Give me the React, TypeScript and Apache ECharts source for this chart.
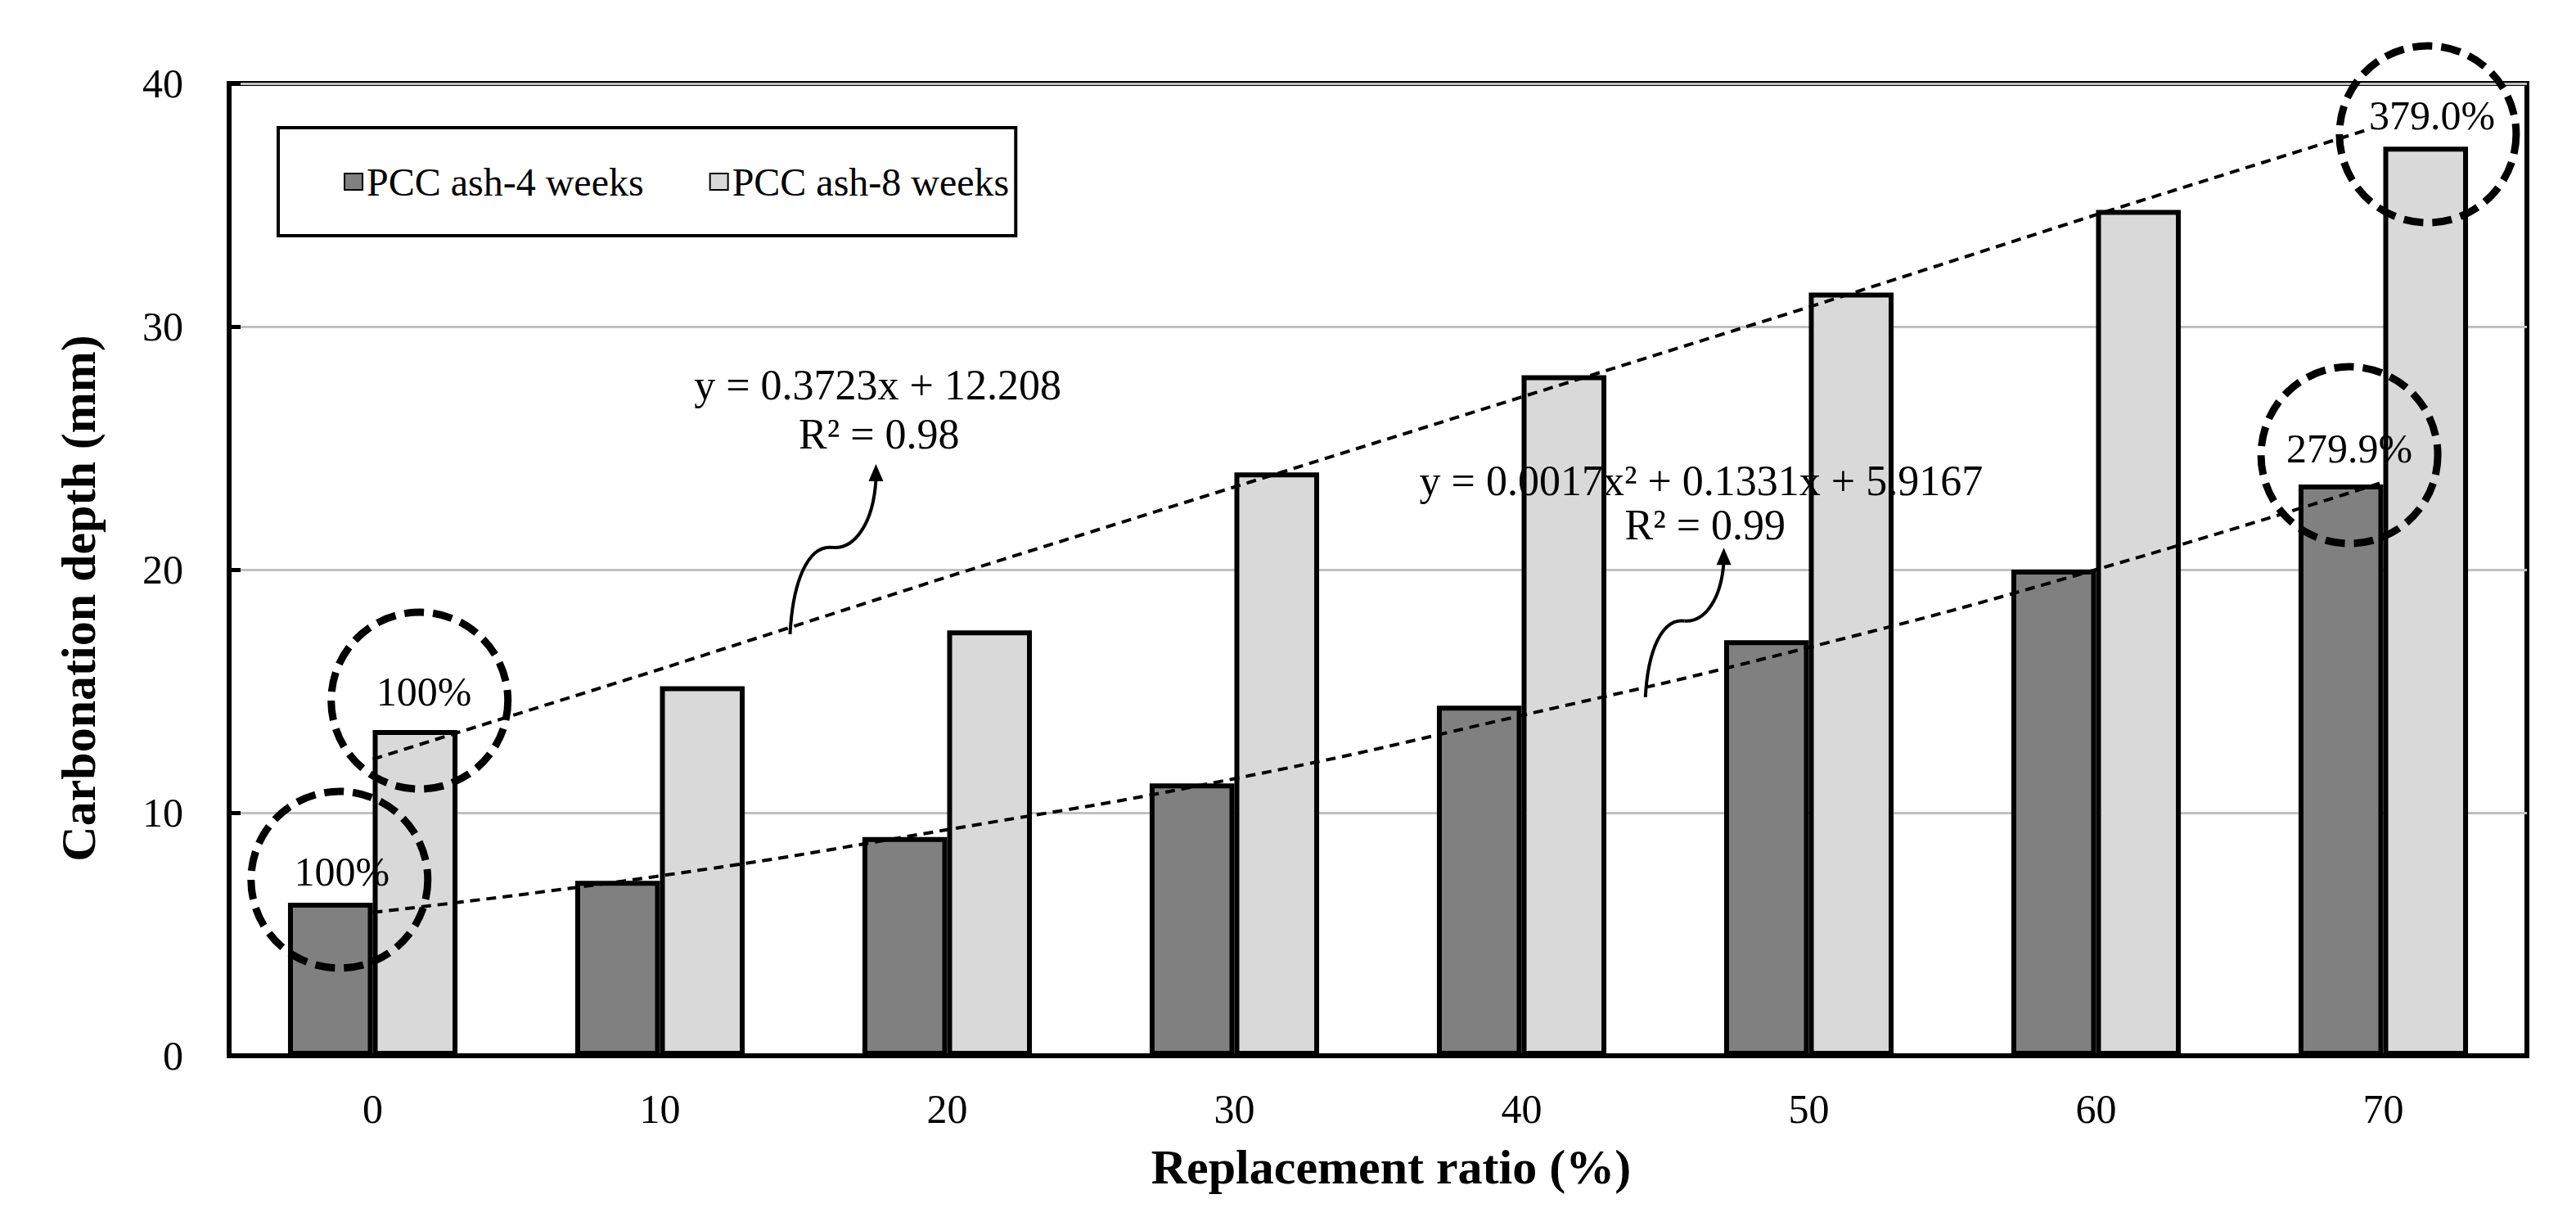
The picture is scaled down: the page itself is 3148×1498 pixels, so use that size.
import React, { useEffect, useRef } from "react";
import * as echarts from "echarts";

const FONT = "Liberation Serif, Times New Roman, serif";

// Categories (replacement ratio, %)
const categories = ["0", "10", "20", "30", "40", "50", "60", "70"];
// Carbonation depth (mm)
const weeks4 = [6.3, 7.2, 9.0, 11.2, 14.4, 17.1, 20.0, 23.5];
const weeks8 = [13.4, 15.2, 17.5, 24.0, 28.0, 31.4, 34.8, 37.4];
const trend8 = [12.2, 15.9, 19.7, 23.4, 27.1, 30.8, 34.6, 38.3];
const trend4 = [5.9, 7.4, 9.3, 11.4, 14.0, 16.8, 20.0, 23.6];
const seriesNames = ["PCC ash-4 weeks", "PCC ash-8 weeks"];

// Annotations, anchored in data space (x = category index, y = mm)
const circleNotes = [
  { label: "100%", center: [-0.116, 7.24], textAt: [-0.107, 7.58], bg: false },
  { label: "100%", center: [0.163, 14.61], textAt: [0.178, 14.98], bg: false },
  { label: "279.9%", center: [6.882, 24.71], textAt: [6.882, 24.98], bg: false },
  { label: "379.0%", center: [7.155, 37.91], textAt: [7.17, 38.69], bg: true },
];
const equationNotes = [
  { lines: ["y = 0.3723x + 12.208", "R² = 0.98"], at: [[1.758, 27.6], [1.763, 25.56]] },
  { lines: ["y = 0.0017x² + 0.1331x + 5.9167", "R² = 0.99"], at: [[4.625, 23.67], [4.639, 21.85]] },
];
const arrowNotes = [
  { from: [1.453, 17.34], to: [1.752, 24.34] },
  { from: [4.431, 14.75], to: [4.704, 20.9] },
];

export default function App() {
  const ref = useRef<HTMLDivElement>(null);

  useEffect(() => {
    if (!ref.current) return;
    const chart = echarts.init(ref.current, null, { renderer: "svg" });

    const barStyle = (color: string) => ({
      color,
      borderColor: "#000",
      borderWidth: 6,
    });

    chart.setOption({
      animation: false,
      backgroundColor: "#fff",
      textStyle: { fontFamily: FONT },
      grid: {
        left: 280,
        right: 60,
        top: 102,
        bottom: 208,
        show: true,
        borderColor: "#000",
        borderWidth: 6,
        backgroundColor: "transparent",
      },
      legend: {
        data: seriesNames,
        left: 340,
        top: 156,
        orient: "horizontal",
        padding: [42, 8, 42, 80],
        itemGap: 80,
        itemWidth: 22,
        itemHeight: 20,
        icon: "rect",
        borderColor: "#000",
        borderWidth: 4,
        backgroundColor: "#fff",
        textStyle: { fontFamily: FONT, fontSize: 48, color: "#000" },
      },
      xAxis: [
        {
          type: "category",
          data: categories,
          axisLine: { show: true, onZero: false, lineStyle: { color: "#000", width: 6 } },
          axisTick: { show: false },
          axisLabel: { fontFamily: FONT, fontSize: 50, color: "#000", margin: 40 },
          name: "Replacement ratio (%)",
          nameLocation: "middle",
          nameGap: 106,
          nameTextStyle: {
            fontFamily: FONT,
            fontSize: 60,
            fontWeight: "bold",
            color: "#000",
            padding: [0, 0, 0, 32],
          },
        },
        { type: "value", min: -0.5, max: 7.5, show: false },
      ],
      yAxis: {
        type: "value",
        min: 0,
        max: 40,
        interval: 10,
        axisLine: { show: true, onZero: false, lineStyle: { color: "#000", width: 6 } },
        axisTick: { show: true, inside: true, length: 14, lineStyle: { color: "#000", width: 5 } },
        axisLabel: { fontFamily: FONT, fontSize: 50, color: "#000", margin: 56 },
        splitLine: { show: true, lineStyle: { color: "#c0c0c0", width: 3 } },
        name: "Carbonation depth (mm)",
        nameLocation: "middle",
        nameGap: 154,
        nameTextStyle: {
          fontFamily: FONT,
          fontSize: 60,
          fontWeight: "bold",
          color: "#000",
          padding: [0, 70, 0, 0],
        },
      },
      series: [
        {
          name: seriesNames[0],
          type: "bar",
          data: weeks4,
          barGap: "0%",
          barCategoryGap: "41%",
          itemStyle: barStyle("#808080"),
        },
        {
          name: seriesNames[1],
          type: "bar",
          data: weeks8,
          barGap: "0%",
          barCategoryGap: "41%",
          itemStyle: barStyle("#d9d9d9"),
        },
        {
          name: "trend8",
          type: "line",
          xAxisIndex: 1,
          data: trend8.map((v, i) => [i, v]),
          symbol: "none",
          z: 5,
          silent: true,
          lineStyle: { color: "#000", width: 4, type: [12, 8] },
        },
        {
          name: "trend4",
          type: "line",
          xAxisIndex: 1,
          data: trend4.map((v, i) => [i, v]),
          symbol: "none",
          smooth: true,
          z: 5,
          silent: true,
          lineStyle: { color: "#000", width: 4, type: [12, 8] },
        },
      ],
    });

    const px = (p: number[]) =>
      chart.convertToPixel({ seriesIndex: 2 }, p) as unknown as number[];

    const graphics: any[] = [];
    circleNotes.forEach((c) => {
      const [cx, cy] = px(c.center);
      graphics.push({
        type: "circle",
        silent: true,
        z: 20,
        shape: { cx, cy, r: 108 },
        style: { fill: "none", stroke: "#000", lineWidth: 9, lineDash: [24, 11] },
      });
      const [tx, ty] = px(c.textAt);
      graphics.push({
        type: "text",
        silent: true,
        z: 21,
        x: tx,
        y: ty,
        style: {
          text: c.label,
          fontFamily: FONT,
          fontSize: 50,
          fill: "#000",
          align: "center",
          verticalAlign: "middle",
          backgroundColor: c.bg ? "#fff" : "transparent",
          padding: c.bg ? [0, 4] : 0,
        },
      });
    });

    equationNotes.forEach((e) => {
      e.lines.forEach((line, k) => {
        const [tx, ty] = px(e.at[k]);
        graphics.push({
          type: "text",
          silent: true,
          z: 21,
          x: tx,
          y: ty,
          style: {
            text: line,
            fontFamily: FONT,
            fontSize: 52,
            fill: "#000",
            align: "center",
            verticalAlign: "middle",
          },
        });
      });
    });

    arrowNotes.forEach((a) => {
      const B = px(a.from);
      const T = px(a.to);
      const dx = T[0] - B[0];
      const dy = T[1] - B[1];
      const P = (fx: number, fy: number) => [B[0] + fx * dx, B[1] + fy * dy];
      const M = P(0.5, 0.51);
      const E = P(1.0, 0.91);
      const c1 = P(0.03, 0.3);
      const c2 = P(0.2, 0.53);
      const c3 = P(0.75, 0.5);
      const c4 = P(0.97, 0.65);
      const line = { stroke: "#000", lineWidth: 4, fill: "none" };
      graphics.push({
        type: "bezierCurve",
        silent: true,
        z: 21,
        shape: { x1: B[0], y1: B[1], cpx1: c1[0], cpy1: c1[1], cpx2: c2[0], cpy2: c2[1], x2: M[0], y2: M[1] },
        style: line,
      });
      graphics.push({
        type: "bezierCurve",
        silent: true,
        z: 21,
        shape: { x1: M[0], y1: M[1], cpx1: c3[0], cpy1: c3[1], cpx2: c4[0], cpy2: c4[1], x2: E[0], y2: E[1] },
        style: line,
      });
      graphics.push({
        type: "polygon",
        silent: true,
        z: 21,
        shape: { points: [[T[0], T[1]], [T[0] - 9, T[1] + 21], [T[0] + 9, T[1] + 21]] },
        style: { fill: "#000" },
      });
    });

    chart.setOption({ graphic: graphics });

    return () => chart.dispose();
  }, []);

  return (
    <div
      ref={ref}
      style={{ position: "fixed", left: 0, top: 0, width: 3148, height: 1498, background: "#fff" }}
    />
  );
}
